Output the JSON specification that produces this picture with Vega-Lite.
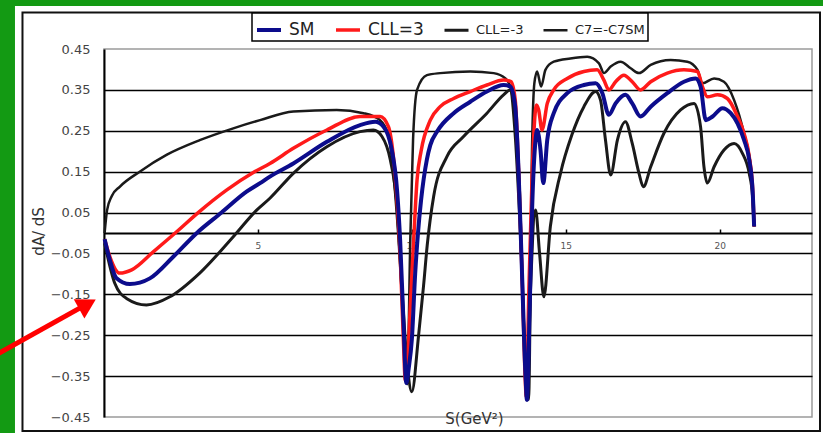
{
  "$schema": "https://vega.github.io/schema/vega-lite/v6.json",
  "width": 708,
  "height": 368,
  "autosize": {"type": "none"},
  "padding": {"left": 104, "top": 49, "right": 11, "bottom": 16},
  "background": "white",
  "config": {
    "view": {"stroke": "#9a9a9a", "strokeWidth": 1.5},
    "font": "DejaVu Sans"
  },
  "layer": [
    {
      "data": {"values": [{}]},
      "mark": {"type": "rect", "color": "#139a13", "opacity": 1, "clip": false},
      "encoding": {
        "x": {"datum": -4, "type": "quantitative"},
        "x2": {"datum": -2.892},
        "y": {"datum": 0.7, "type": "quantitative"},
        "y2": {"datum": -0.6}
      }
    },
    {
      "data": {"values": [{}]},
      "mark": {"type": "rect", "color": "#139a13", "opacity": 1, "clip": false},
      "encoding": {
        "x": {"datum": -4, "type": "quantitative"},
        "x2": {"datum": 24},
        "y": {"datum": 0.7, "type": "quantitative"},
        "y2": {"datum": 0.5551}
      }
    },
    {
      "data": {"values": [{}]},
      "mark": {"type": "rect", "filled": false, "stroke": "#111111", "strokeWidth": 2, "clip": false},
      "encoding": {
        "x": {"datum": -2.648, "type": "quantitative"},
        "x2": {"datum": 23.26},
        "y": {"datum": 0.5392, "type": "quantitative"},
        "y2": {"datum": -0.484}
      }
    },
    {
      "data": {"values": [
        {"series":"C7=-C7SM","s":0.02,"v":0.0},{"series":"C7=-C7SM","s":0.1,"v":0.056},{"series":"C7=-C7SM","s":0.25,"v":0.09},{"series":"C7=-C7SM","s":0.51,"v":0.113},{"series":"C7=-C7SM","s":1.16,"v":0.15},{"series":"C7=-C7SM","s":2.03,"v":0.191},{"series":"C7=-C7SM","s":3.11,"v":0.227},{"series":"C7=-C7SM","s":4.2,"v":0.256},{"series":"C7=-C7SM","s":5.07,"v":0.276},{"series":"C7=-C7SM","s":6.15,"v":0.297},{"series":"C7=-C7SM","s":7.56,"v":0.301},{"series":"C7=-C7SM","s":8.43,"v":0.293},{"series":"C7=-C7SM","s":8.97,"v":0.276},{"series":"C7=-C7SM","s":9.25,"v":0.236},{"series":"C7=-C7SM","s":9.4,"v":0.146},{"series":"C7=-C7SM","s":9.57,"v":-0.017},{"series":"C7=-C7SM","s":9.73,"v":-0.221},{"series":"C7=-C7SM","s":9.85,"v":-0.37},{"series":"C7=-C7SM","s":9.95,"v":-0.017},{"series":"C7=-C7SM","s":10.04,"v":0.228},{"series":"C7=-C7SM","s":10.17,"v":0.35},{"series":"C7=-C7SM","s":10.49,"v":0.386},{"series":"C7=-C7SM","s":10.92,"v":0.391},{"series":"C7=-C7SM","s":11.9,"v":0.395},{"series":"C7=-C7SM","s":12.66,"v":0.391},{"series":"C7=-C7SM","s":13.04,"v":0.378},{"series":"C7=-C7SM","s":13.2,"v":0.358},{"series":"C7=-C7SM","s":13.36,"v":0.228},{"series":"C7=-C7SM","s":13.53,"v":-0.017},{"series":"C7=-C7SM","s":13.72,"v":-0.342},{"series":"C7=-C7SM","s":13.8,"v":-0.408},{"series":"C7=-C7SM","s":13.91,"v":0.228},{"series":"C7=-C7SM","s":13.98,"v":0.366},{"series":"C7=-C7SM","s":14.07,"v":0.395},{"series":"C7=-C7SM","s":14.2,"v":0.358},{"series":"C7=-C7SM","s":14.34,"v":0.399},{"series":"C7=-C7SM","s":14.61,"v":0.419},{"series":"C7=-C7SM","s":15.15,"v":0.427},{"series":"C7=-C7SM","s":15.7,"v":0.431},{"series":"C7=-C7SM","s":16.08,"v":0.415},{"series":"C7=-C7SM","s":16.24,"v":0.391},{"series":"C7=-C7SM","s":16.46,"v":0.407},{"series":"C7=-C7SM","s":16.78,"v":0.419},{"series":"C7=-C7SM","s":17.11,"v":0.403},{"series":"C7=-C7SM","s":17.38,"v":0.391},{"series":"C7=-C7SM","s":17.76,"v":0.411},{"series":"C7=-C7SM","s":18.41,"v":0.423},{"series":"C7=-C7SM","s":18.95,"v":0.419},{"series":"C7=-C7SM","s":19.28,"v":0.399},{"series":"C7=-C7SM","s":19.44,"v":0.366},{"series":"C7=-C7SM","s":19.82,"v":0.378},{"series":"C7=-C7SM","s":20.14,"v":0.37},{"series":"C7=-C7SM","s":20.47,"v":0.325},{"series":"C7=-C7SM","s":20.79,"v":0.244},{"series":"C7=-C7SM","s":21.01,"v":0.162},{"series":"C7=-C7SM","s":21.12,"v":0.016},
        {"series":"CLL=-3","s":0.02,"v":-0.025},{"series":"CLL=-3","s":0.35,"v":-0.123},{"series":"CLL=-3","s":0.73,"v":-0.16},{"series":"CLL=-3","s":1.38,"v":-0.176},{"series":"CLL=-3","s":2.14,"v":-0.156},{"series":"CLL=-3","s":3.11,"v":-0.098},{"series":"CLL=-3","s":4.2,"v":-0.009},{"series":"CLL=-3","s":4.96,"v":0.056},{"series":"CLL=-3","s":5.39,"v":0.085},{"series":"CLL=-3","s":6.15,"v":0.146},{"series":"CLL=-3","s":7.24,"v":0.211},{"series":"CLL=-3","s":8.32,"v":0.248},{"series":"CLL=-3","s":8.75,"v":0.252},{"series":"CLL=-3","s":9.03,"v":0.236},{"series":"CLL=-3","s":9.3,"v":0.179},{"series":"CLL=-3","s":9.52,"v":0.064},{"series":"CLL=-3","s":9.68,"v":-0.139},{"series":"CLL=-3","s":9.85,"v":-0.32},{"series":"CLL=-3","s":10.0,"v":-0.388},{"series":"CLL=-3","s":10.22,"v":-0.25},{"series":"CLL=-3","s":10.38,"v":-0.13},{"series":"CLL=-3","s":10.5,"v":-0.03},{"series":"CLL=-3","s":10.71,"v":0.09},{"series":"CLL=-3","s":11.14,"v":0.187},{"series":"CLL=-3","s":11.68,"v":0.236},{"series":"CLL=-3","s":12.44,"v":0.293},{"series":"CLL=-3","s":12.98,"v":0.338},{"series":"CLL=-3","s":13.2,"v":0.35},{"series":"CLL=-3","s":13.36,"v":0.285},{"series":"CLL=-3","s":13.5,"v":0.1},{"series":"CLL=-3","s":13.62,"v":-0.2},{"series":"CLL=-3","s":13.74,"v":-0.408},{"series":"CLL=-3","s":13.85,"v":-0.15},{"series":"CLL=-3","s":14.02,"v":0.056},{"series":"CLL=-3","s":14.15,"v":-0.05},{"series":"CLL=-3","s":14.29,"v":-0.156},{"series":"CLL=-3","s":14.5,"v":0.016},{"series":"CLL=-3","s":14.83,"v":0.146},{"series":"CLL=-3","s":15.2,"v":0.24},{"series":"CLL=-3","s":15.59,"v":0.309},{"series":"CLL=-3","s":15.97,"v":0.346},{"series":"CLL=-3","s":16.13,"v":0.325},{"series":"CLL=-3","s":16.29,"v":0.228},{"series":"CLL=-3","s":16.46,"v":0.142},{"series":"CLL=-3","s":16.68,"v":0.228},{"series":"CLL=-3","s":16.94,"v":0.272},{"series":"CLL=-3","s":17.16,"v":0.219},{"series":"CLL=-3","s":17.38,"v":0.146},{"series":"CLL=-3","s":17.52,"v":0.113},{"series":"CLL=-3","s":17.76,"v":0.162},{"series":"CLL=-3","s":18.19,"v":0.244},{"series":"CLL=-3","s":18.73,"v":0.301},{"series":"CLL=-3","s":19.17,"v":0.317},{"series":"CLL=-3","s":19.38,"v":0.26},{"series":"CLL=-3","s":19.49,"v":0.162},{"series":"CLL=-3","s":19.6,"v":0.122},{"series":"CLL=-3","s":19.82,"v":0.162},{"series":"CLL=-3","s":20.14,"v":0.203},{"series":"CLL=-3","s":20.47,"v":0.219},{"series":"CLL=-3","s":20.74,"v":0.195},{"series":"CLL=-3","s":20.96,"v":0.146},{"series":"CLL=-3","s":21.07,"v":0.089},{"series":"CLL=-3","s":21.12,"v":0.016},
        {"series":"CLL=3","s":0.02,"v":-0.015},{"series":"CLL=3","s":0.2,"v":-0.06},{"series":"CLL=3","s":0.51,"v":-0.098},{"series":"CLL=3","s":0.9,"v":-0.09},{"series":"CLL=3","s":1.6,"v":-0.046},{"series":"CLL=3","s":2.36,"v":0.003},{"series":"CLL=3","s":3.06,"v":0.05},{"series":"CLL=3","s":3.98,"v":0.105},{"series":"CLL=3","s":4.85,"v":0.148},{"series":"CLL=3","s":5.39,"v":0.17},{"series":"CLL=3","s":6.15,"v":0.207},{"series":"CLL=3","s":7.24,"v":0.252},{"series":"CLL=3","s":8.32,"v":0.285},{"series":"CLL=3","s":8.97,"v":0.285},{"series":"CLL=3","s":9.24,"v":0.26},{"series":"CLL=3","s":9.4,"v":0.187},{"series":"CLL=3","s":9.52,"v":0.08},{"series":"CLL=3","s":9.62,"v":-0.05},{"series":"CLL=3","s":9.72,"v":-0.25},{"series":"CLL=3","s":9.79,"v":-0.36},{"series":"CLL=3","s":9.87,"v":-0.3},{"series":"CLL=3","s":9.95,"v":-0.18},{"series":"CLL=3","s":10.06,"v":-0.017},{"series":"CLL=3","s":10.17,"v":0.13},{"series":"CLL=3","s":10.3,"v":0.2},{"series":"CLL=3","s":10.6,"v":0.276},{"series":"CLL=3","s":10.92,"v":0.309},{"series":"CLL=3","s":11.36,"v":0.329},{"series":"CLL=3","s":11.9,"v":0.346},{"series":"CLL=3","s":12.44,"v":0.362},{"series":"CLL=3","s":12.98,"v":0.374},{"series":"CLL=3","s":13.22,"v":0.37},{"series":"CLL=3","s":13.36,"v":0.325},{"series":"CLL=3","s":13.47,"v":0.15},{"series":"CLL=3","s":13.58,"v":-0.1},{"series":"CLL=3","s":13.67,"v":-0.33},{"series":"CLL=3","s":13.72,"v":-0.4},{"series":"CLL=3","s":13.8,"v":-0.15},{"series":"CLL=3","s":13.91,"v":0.146},{"series":"CLL=3","s":14.05,"v":0.313},{"series":"CLL=3","s":14.12,"v":0.301},{"series":"CLL=3","s":14.23,"v":0.252},{"series":"CLL=3","s":14.4,"v":0.317},{"series":"CLL=3","s":14.61,"v":0.35},{"series":"CLL=3","s":15.05,"v":0.378},{"series":"CLL=3","s":15.59,"v":0.395},{"series":"CLL=3","s":16.02,"v":0.399},{"series":"CLL=3","s":16.24,"v":0.374},{"series":"CLL=3","s":16.4,"v":0.35},{"series":"CLL=3","s":16.62,"v":0.37},{"series":"CLL=3","s":16.89,"v":0.386},{"series":"CLL=3","s":17.16,"v":0.37},{"series":"CLL=3","s":17.43,"v":0.35},{"series":"CLL=3","s":17.76,"v":0.37},{"series":"CLL=3","s":18.3,"v":0.391},{"series":"CLL=3","s":18.84,"v":0.399},{"series":"CLL=3","s":19.28,"v":0.395},{"series":"CLL=3","s":19.44,"v":0.358},{"series":"CLL=3","s":19.6,"v":0.333},{"series":"CLL=3","s":19.93,"v":0.338},{"series":"CLL=3","s":20.25,"v":0.329},{"series":"CLL=3","s":20.58,"v":0.285},{"series":"CLL=3","s":20.79,"v":0.244},{"series":"CLL=3","s":20.96,"v":0.187},{"series":"CLL=3","s":21.07,"v":0.11},{"series":"CLL=3","s":21.12,"v":0.016},
        {"series":"SM","s":0.02,"v":-0.015},{"series":"SM","s":0.19,"v":-0.066},{"series":"SM","s":0.4,"v":-0.11},{"series":"SM","s":0.84,"v":-0.125},{"series":"SM","s":1.49,"v":-0.111},{"series":"SM","s":2.25,"v":-0.058},{"series":"SM","s":3.0,"v":-0.001},{"series":"SM","s":3.82,"v":0.05},{"series":"SM","s":4.63,"v":0.101},{"series":"SM","s":5.07,"v":0.122},{"series":"SM","s":5.39,"v":0.138},{"series":"SM","s":6.15,"v":0.17},{"series":"SM","s":7.24,"v":0.223},{"series":"SM","s":8.32,"v":0.264},{"series":"SM","s":8.81,"v":0.272},{"series":"SM","s":9.08,"v":0.26},{"series":"SM","s":9.35,"v":0.203},{"series":"SM","s":9.52,"v":0.105},{"series":"SM","s":9.62,"v":-0.017},{"series":"SM","s":9.73,"v":-0.22},{"series":"SM","s":9.82,"v":-0.367},{"series":"SM","s":9.9,"v":-0.33},{"series":"SM","s":10.0,"v":-0.261},{"series":"SM","s":10.11,"v":-0.098},{"series":"SM","s":10.2,"v":0.0},{"series":"SM","s":10.3,"v":0.08},{"series":"SM","s":10.49,"v":0.18},{"series":"SM","s":10.6,"v":0.215},{"series":"SM","s":10.82,"v":0.248},{"series":"SM","s":11.36,"v":0.293},{"series":"SM","s":11.9,"v":0.321},{"series":"SM","s":12.44,"v":0.346},{"series":"SM","s":12.98,"v":0.362},{"series":"SM","s":13.2,"v":0.358},{"series":"SM","s":13.36,"v":0.309},{"series":"SM","s":13.47,"v":0.146},{"series":"SM","s":13.58,"v":-0.098},{"series":"SM","s":13.69,"v":-0.343},{"series":"SM","s":13.74,"v":-0.408},{"series":"SM","s":13.83,"v":-0.18},{"series":"SM","s":13.91,"v":0.064},{"series":"SM","s":14.02,"v":0.228},{"series":"SM","s":14.07,"v":0.252},{"series":"SM","s":14.18,"v":0.203},{"series":"SM","s":14.27,"v":0.122},{"series":"SM","s":14.4,"v":0.228},{"series":"SM","s":14.61,"v":0.293},{"series":"SM","s":15.05,"v":0.342},{"series":"SM","s":15.59,"v":0.362},{"series":"SM","s":15.97,"v":0.366},{"series":"SM","s":16.19,"v":0.342},{"series":"SM","s":16.4,"v":0.289},{"series":"SM","s":16.62,"v":0.317},{"series":"SM","s":16.94,"v":0.338},{"series":"SM","s":17.16,"v":0.317},{"series":"SM","s":17.43,"v":0.285},{"series":"SM","s":17.76,"v":0.309},{"series":"SM","s":18.3,"v":0.342},{"series":"SM","s":18.84,"v":0.37},{"series":"SM","s":19.22,"v":0.378},{"series":"SM","s":19.38,"v":0.358},{"series":"SM","s":19.55,"v":0.276},{"series":"SM","s":19.77,"v":0.285},{"series":"SM","s":20.09,"v":0.305},{"series":"SM","s":20.36,"v":0.293},{"series":"SM","s":20.58,"v":0.268},{"series":"SM","s":20.79,"v":0.228},{"series":"SM","s":20.96,"v":0.179},{"series":"SM","s":21.07,"v":0.105},{"series":"SM","s":21.12,"v":0.016}
      ]},
      "mark": {"type": "line", "interpolate": "monotone"},
      "encoding": {
        "x": {
          "field": "s", "type": "quantitative",
          "scale": {"domain": [0, 23], "nice": false, "zero": false},
          "axis": {
            "offset": -184, "values": [5, 10, 15, 20], "grid": false,
            "domainColor": "#000000", "domainWidth": 2,
            "ticks": true, "tickSize": -4, "tickColor": "#000000", "tickWidth": 1.5,
            "labelFontSize": 9, "labelColor": "#555555", "labelPadding": 12,
            "title": "S(GeV²)", "titleFontSize": 15, "titleFontWeight": "normal", "titleColor": "#333333",
            "titleX": 370, "titleY": 185, "titleBaseline": "middle", "titleAnchor": null
          }
        },
        "y": {
          "field": "v", "type": "quantitative",
          "scale": {"domain": [-0.45, 0.45], "nice": false, "zero": false},
          "axis": {
            "values": [-0.45, -0.35, -0.25, -0.15, -0.05, 0.05, 0.15, 0.25, 0.35, 0.45],
            "format": ".2f", "grid": true, "gridColor": "#000000", "gridWidth": 1.5,
            "gridOpacity": {"condition": {"test": "abs(datum.value) > 0.44", "value": 0}, "value": 1},
            "domainColor": "#000000", "domainWidth": 2, "ticks": false,
            "labelFontSize": 13, "labelColor": "#444444", "labelPadding": 14,
            "title": "dA/ dS", "titleFontSize": 15, "titleFontWeight": "normal", "titleColor": "#333333",
            "titleX": -66, "titleY": 182, "titleBaseline": "middle", "titleAlign": "center"
          }
        },
        "color": {
          "field": "series", "type": "nominal",
          "scale": {"domain": ["SM", "CLL=3", "CLL=-3", "C7=-C7SM"], "range": ["#0c0c8c", "#ff1a1a", "#1a1a1a", "#1a1a1a"]},
          "legend": {
            "title": null, "orient": "none", "legendX": 148, "legendY": -36, "direction": "horizontal",
            "symbolType": "stroke", "symbolSize": 576, "columnPadding": 14, "labelOffset": 6, "padding": 3,
            "strokeColor": "#000000", "fillColor": "#ffffff", "labelColor": "#222222", "labelFont": "DejaVu Sans",
            "encode": {
              "labels": {"update": {"fontSize": {"signal": "datum.value == 'SM' || datum.value == 'CLL=3' ? 17 : 13"}}},
              "legend": {"update": {"strokeWidth": {"value": 1.5}}}
            }
          }
        },
        "strokeWidth": {
          "field": "series", "type": "nominal",
          "scale": {"domain": ["SM", "CLL=3", "CLL=-3", "C7=-C7SM"], "range": [4, 2.5, 1.2, 1.2]},
          "legend": {
            "title": null, "orient": "none", "legendX": 148, "legendY": -36, "direction": "horizontal",
            "symbolType": "stroke", "symbolSize": 576, "columnPadding": 14, "labelOffset": 6, "padding": 3,
            "strokeColor": "#000000", "fillColor": "#ffffff", "labelColor": "#222222", "labelFont": "DejaVu Sans",
            "encode": {
              "labels": {"update": {"fontSize": {"signal": "datum.value == 'SM' || datum.value == 'CLL=3' ? 17 : 13"}}},
              "legend": {"update": {"strokeWidth": {"value": 1.5}}}
            }
          }
        }
      }
    },
    {
      "data": {"values": [{}]},
      "mark": {"type": "rule", "color": "#ff0000", "strokeWidth": 5, "clip": false},
      "encoding": {
        "x": {"datum": -3.72, "type": "quantitative"},
        "y": {"datum": -0.3067, "type": "quantitative"},
        "x2": {"datum": -0.715},
        "y2": {"datum": -0.1808}
      }
    },
    {
      "data": {"values": [{}]},
      "mark": {"type": "point", "shape": "triangle-up", "filled": true, "color": "#ff0000", "size": 484, "angle": 61, "opacity": 1, "clip": false},
      "encoding": {
        "x": {"datum": -0.539, "type": "quantitative"},
        "y": {"datum": -0.1742, "type": "quantitative"}
      }
    }
  ]
}
